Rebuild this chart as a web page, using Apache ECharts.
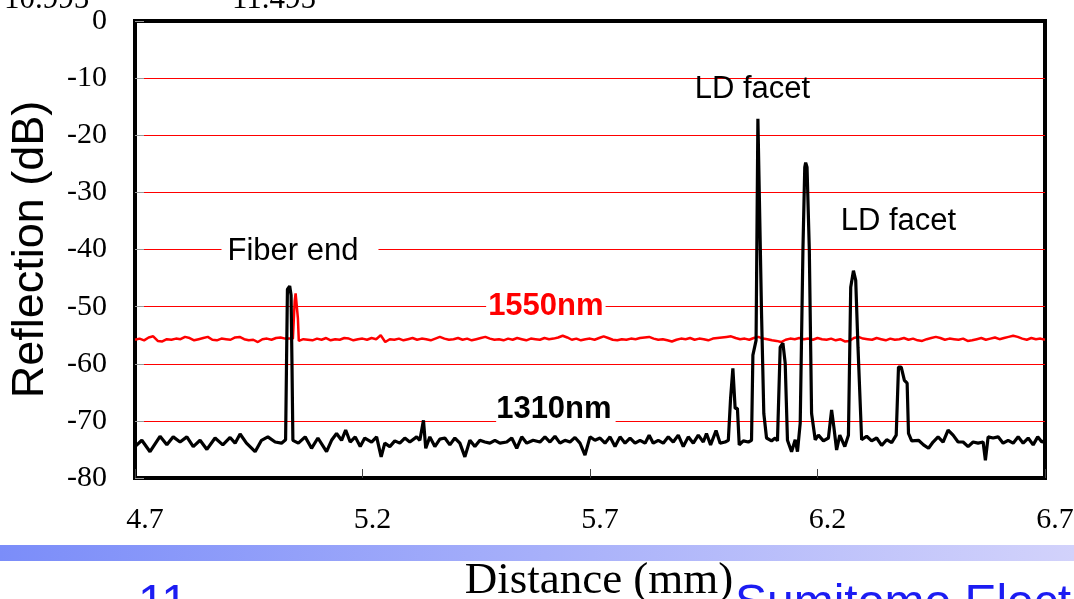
<!DOCTYPE html>
<html><head><meta charset="utf-8">
<script src="https://cdn.jsdelivr.net/npm/echarts@6/dist/echarts.min.js"></script>
<style>html,body{margin:0;padding:0;background:#fff;overflow:hidden}#c{width:1074px;height:599px}</style>
</head><body><div id="c"></div>
<script>
// ---- data ----
const xTickValues = [4.7, 5.2, 5.7, 6.2, 6.7];
const yMin = -80, yMax = 0, yStep = 10;
const seriesNames = ['1550nm', '1310nm'];

// 1310 nm trace: [distance (mm), reflection (dB)]
const trace1310 = [
[4.700,-74.5],[4.715,-73.4],[4.733,-75.4],[4.755,-72.7],[4.770,-74.2],[4.784,-72.8],[4.799,-73.7],[4.814,-72.8],
[4.828,-74.5],[4.843,-73.4],[4.858,-75.0],[4.876,-73.0],[4.893,-74.2],[4.909,-72.9],[4.920,-73.9],[4.931,-72.3],
[4.945,-73.9],[4.964,-75.4],[4.978,-73.4],[4.992,-72.8],[5.008,-73.7],[5.022,-73.9],[5.031,-73.3],[5.033,-60.0],
[5.035,-47.0],[5.040,-46.4],[5.043,-48.0],[5.045,-60.0],[5.047,-73.4],[5.059,-73.9],[5.074,-72.8],[5.088,-74.8],
[5.102,-73.0],[5.121,-75.4],[5.132,-73.4],[5.143,-72.2],[5.154,-73.4],[5.163,-71.6],[5.173,-73.7],[5.184,-72.8],
[5.195,-74.5],[5.205,-73.0],[5.220,-73.7],[5.231,-72.8],[5.241,-76.3],[5.249,-73.9],[5.260,-74.5],[5.271,-73.5],
[5.282,-73.9],[5.293,-73.0],[5.304,-73.7],[5.319,-72.8],[5.326,-73.4],[5.334,-69.9],[5.339,-74.8],[5.348,-72.8],
[5.359,-74.5],[5.370,-73.2],[5.381,-73.0],[5.392,-74.2],[5.403,-73.0],[5.414,-73.9],[5.425,-76.3],[5.436,-73.4],
[5.447,-74.5],[5.458,-73.4],[5.469,-73.7],[5.480,-73.9],[5.491,-73.4],[5.502,-73.9],[5.517,-73.7],[5.528,-73.0],
[5.539,-74.8],[5.550,-72.8],[5.561,-73.9],[5.575,-73.4],[5.590,-73.7],[5.601,-72.8],[5.612,-73.7],[5.623,-72.7],
[5.634,-73.9],[5.645,-73.4],[5.656,-73.7],[5.667,-72.9],[5.678,-73.9],[5.689,-76.0],[5.700,-72.8],[5.711,-73.4],
[5.722,-73.0],[5.733,-73.9],[5.744,-72.8],[5.755,-74.5],[5.766,-72.8],[5.777,-73.9],[5.788,-73.0],[5.799,-73.9],
[5.810,-73.4],[5.821,-73.9],[5.830,-72.5],[5.839,-73.9],[5.850,-73.4],[5.861,-73.9],[5.872,-72.8],[5.883,-73.7],
[5.894,-72.5],[5.905,-74.5],[5.916,-72.8],[5.927,-73.9],[5.938,-72.5],[5.949,-73.7],[5.956,-72.2],[5.965,-74.2],
[5.977,-71.7],[5.986,-73.9],[5.997,-73.7],[6.004,-73.4],[6.009,-66.0],[6.014,-60.8],[6.019,-67.8],[6.024,-67.8],
[6.028,-74.2],[6.037,-73.5],[6.048,-73.7],[6.055,-73.4],[6.058,-58.5],[6.065,-55.9],[6.069,-17.1],[6.072,-17.1],
[6.077,-51.2],[6.082,-68.7],[6.088,-73.0],[6.099,-73.5],[6.107,-73.0],[6.112,-73.5],[6.118,-57.1],[6.124,-56.4],
[6.129,-59.9],[6.134,-73.4],[6.143,-75.4],[6.151,-73.3],[6.156,-75.4],[6.162,-70.4],[6.168,-40.0],[6.172,-25.6],
[6.174,-24.8],[6.177,-25.6],[6.182,-40.0],[6.187,-68.7],[6.195,-73.3],[6.202,-72.5],[6.213,-73.5],[6.224,-73.0],[6.231,-68.1],
[6.236,-71.1],[6.242,-75.1],[6.249,-72.5],[6.260,-74.5],[6.268,-72.5],[6.273,-46.6],[6.279,-43.7],[6.284,-45.4],
[6.289,-57.1],[6.297,-73.3],[6.308,-72.7],[6.319,-73.5],[6.330,-73.0],[6.341,-74.3],[6.352,-73.3],[6.363,-73.8],
[6.373,-72.5],[6.378,-60.6],[6.384,-60.6],[6.391,-62.9],[6.397,-63.4],[6.400,-72.2],[6.407,-73.5],[6.411,-73.7],
[6.422,-73.4],[6.433,-74.2],[6.444,-74.8],[6.454,-73.7],[6.465,-72.8],[6.476,-73.7],[6.487,-71.6],[6.498,-72.5],
[6.509,-73.7],[6.520,-73.7],[6.531,-74.5],[6.542,-73.7],[6.553,-73.9],[6.564,-73.7],[6.569,-76.9],[6.575,-72.8],
[6.586,-73.0],[6.597,-72.8],[6.608,-73.9],[6.619,-73.4],[6.630,-73.9],[6.641,-72.8],[6.652,-73.9],[6.663,-73.0],
[6.674,-74.2],[6.684,-72.8],[6.693,-73.7],[6.700,-73.4]
];

// 1550 nm trace: [distance (mm), reflection (dB)]
const trace1550 = [
[4.70,-55.8],[4.71,-55.6],[4.72,-55.9],[4.73,-55.4],[4.74,-55.2],[4.75,-56.0],[4.76,-56.1],[4.77,-55.7],[4.78,-55.8],[4.79,-55.6],
[4.80,-55.7],[4.81,-55.3],[4.82,-55.5],[4.83,-55.9],[4.84,-55.7],[4.85,-55.5],[4.86,-55.3],[4.87,-55.8],[4.88,-55.9],[4.89,-55.6],
[4.90,-55.7],[4.91,-55.8],[4.92,-55.4],[4.93,-55.3],[4.94,-55.7],[4.95,-55.9],[4.96,-55.8],[4.97,-56.2],[4.98,-55.7],[4.99,-55.6],
[5.00,-55.8],[5.01,-55.5],[5.02,-55.4],[5.03,-55.6],[5.04,-55.6],[5.047,-55.6],[5.051,-49.0],[5.053,-47.7],[5.056,-47.8],[5.058,-52.0],
[5.060,-56.0],[5.07,-55.7],[5.08,-55.8],[5.09,-55.9],[5.10,-55.6],[5.11,-55.8],[5.12,-55.5],[5.13,-55.9],[5.14,-55.7],[5.15,-55.8],
[5.16,-55.5],[5.17,-55.6],[5.18,-55.9],[5.19,-55.7],[5.20,-55.6],[5.21,-55.8],[5.22,-55.5],[5.23,-55.7],[5.24,-55.0],[5.25,-56.2],
[5.26,-55.7],[5.27,-55.8],[5.28,-55.6],[5.29,-55.9],[5.30,-55.7],[5.31,-55.5],[5.32,-55.8],[5.33,-55.6],[5.34,-55.7],[5.35,-55.9],
[5.36,-55.6],[5.37,-55.3],[5.38,-55.6],[5.39,-55.8],[5.40,-55.7],[5.41,-55.5],[5.42,-55.8],[5.43,-55.6],[5.44,-55.9],[5.45,-55.7],
[5.46,-55.5],[5.47,-55.3],[5.48,-55.6],[5.49,-55.8],[5.50,-55.7],[5.51,-55.9],[5.52,-55.6],[5.53,-55.8],[5.54,-55.5],[5.55,-55.7],
[5.56,-55.9],[5.57,-55.6],[5.58,-55.7],[5.59,-55.8],[5.60,-55.5],[5.61,-55.7],[5.62,-55.6],[5.63,-55.4],[5.64,-55.1],[5.65,-55.4],
[5.66,-55.8],[5.67,-55.6],[5.68,-55.9],[5.69,-55.7],[5.70,-55.6],[5.71,-55.8],[5.72,-55.5],[5.73,-55.2],[5.74,-55.5],[5.75,-55.8],
[5.76,-55.9],[5.77,-55.7],[5.78,-55.8],[5.79,-55.6],[5.80,-55.7],[5.81,-55.5],[5.82,-55.4],[5.83,-55.3],[5.84,-55.6],[5.85,-55.8],
[5.86,-55.7],[5.87,-55.9],[5.88,-56.1],[5.89,-55.8],[5.90,-55.6],[5.91,-55.7],[5.92,-55.5],[5.93,-55.8],[5.94,-55.6],[5.95,-55.7],
[5.96,-55.9],[5.97,-55.6],[5.98,-55.5],[5.99,-55.4],[6.00,-55.3],[6.01,-55.2],[6.02,-55.5],[6.03,-55.7],[6.04,-55.6],[6.05,-55.8],
[6.06,-55.5],[6.07,-55.3],[6.08,-55.6],[6.09,-55.7],[6.10,-55.9],[6.11,-56.0],[6.12,-56.2],[6.13,-55.8],[6.14,-55.6],[6.15,-55.7],
[6.16,-55.5],[6.17,-55.7],[6.18,-55.6],[6.19,-55.8],[6.20,-55.5],[6.21,-55.7],[6.22,-55.8],[6.23,-55.6],[6.24,-55.9],[6.25,-55.7],
[6.26,-56.1],[6.27,-56.0],[6.28,-55.5],[6.29,-55.3],[6.30,-55.6],[6.31,-55.7],[6.32,-55.8],[6.33,-55.5],[6.34,-55.7],[6.35,-55.9],
[6.36,-55.6],[6.37,-55.8],[6.38,-55.7],[6.39,-55.5],[6.40,-55.8],[6.41,-55.6],[6.42,-55.9],[6.43,-56.0],[6.44,-55.7],[6.45,-55.5],
[6.46,-55.3],[6.47,-55.5],[6.48,-55.8],[6.49,-55.6],[6.50,-55.7],[6.51,-55.8],[6.52,-55.6],[6.53,-56.0],[6.54,-55.9],[6.55,-55.7],
[6.56,-55.5],[6.57,-55.8],[6.58,-55.6],[6.59,-55.4],[6.60,-55.7],[6.61,-55.5],[6.62,-55.3],[6.63,-55.1],[6.64,-55.3],[6.65,-55.6],
[6.66,-55.8],[6.67,-55.5],[6.68,-55.7],[6.69,-55.6],[6.70,-55.8]
];

// ---- chart ----
const chart = echarts.init(document.getElementById('c'), null, {renderer: 'canvas'});
const sans = '"Liberation Sans", Arial, sans-serif';
const serif = '"Liberation Serif", "Times New Roman", serif';

const option = {
  backgroundColor: '#fff',
  animation: false,
  grid: {
    left: 135, right: 29, top: 21, bottom: 121,
    outerBoundsMode: 'none', containLabel: false,
    show: true, borderColor: '#000', borderWidth: 4, backgroundColor: '#fff'
  },
  xAxis: {
    type: 'value', min: 4.7, max: 6.7, position: 'bottom',
    name: 'Distance (mm)', nameLocation: 'middle', nameGap: 81,
    nameTextStyle: {fontFamily: serif, fontSize: 45, color: '#000', padding: [0, 0, 0, 18]},
    axisLine: {show: false, onZero: false},
    axisTick: {show: true, inside: true, length: 9, lineStyle: {color: '#444', width: 1}, customValues: xTickValues},
    axisLabel: {
      show: true, customValues: xTickValues, margin: 27,
      fontFamily: serif, fontSize: 30, color: '#000', padding: [0, 0, 0, 20],
      formatter: v => v.toFixed(1)
    },
    splitLine: {show: false}
  },
  yAxis: {
    type: 'value', min: yMin, max: yMax, interval: yStep,
    name: 'Reflection (dB)', nameLocation: 'middle', nameGap: 82, nameRotate: 90,
    nameTextStyle: {fontFamily: sans, fontSize: 45, color: '#000'},
    axisLine: {show: false, onZero: false},
    axisTick: {show: true, inside: true, length: 9, lineStyle: {color: '#999', width: 1}},
    axisLabel: {fontFamily: serif, fontSize: 30, color: '#000', margin: 28},
    splitLine: {show: true, showMinLine: false, showMaxLine: false, lineStyle: {color: '#ff0000', width: 1}}
  },
  series: [
    {
      name: seriesNames[0], type: 'line', data: trace1550, showSymbol: false, symbol: 'none',
      lineStyle: {color: '#ff0000', width: 2.5}, z: 3,
      markPoint: {
        symbol: 'rect', symbolSize: 1, itemStyle: {color: 'rgba(0,0,0,0)'}, silent: true,
        data: [
          {name: '1550nm', coord: [5.603, -50.0],
           label: {show: true, position: 'inside', formatter: '1550nm', color: '#ff0000', fontWeight: 'bold',
                   fontFamily: sans, fontSize: 31, backgroundColor: '#fff', padding: [1, 2, 1, 2]}}
        ]
      }
    },
    {
      name: seriesNames[1], type: 'line', data: trace1310, showSymbol: false, symbol: 'none',
      lineStyle: {color: '#000', width: 3.2}, z: 4,
      markPoint: {
        symbol: 'rect', symbolSize: 1, itemStyle: {color: 'rgba(0,0,0,0)'}, silent: true,
        data: [
          {name: 'Fiber end', coord: [5.0626, -40.35],
           label: {show: true, position: 'inside', formatter: 'Fiber end', color: '#000',
                   fontFamily: sans, fontSize: 31, backgroundColor: '#fff', padding: [1, 20, 1, 6]}},
          {name: '1310nm', coord: [5.625, -67.95],
           label: {show: true, position: 'inside', formatter: '1310nm', color: '#000', fontWeight: 'bold',
                   fontFamily: sans, fontSize: 31, backgroundColor: '#fff', padding: [1, 4, 1, 0]}},
          {name: 'LD facet 1', coord: [6.057, -12.05],
           label: {show: true, position: 'inside', formatter: 'LD facet', color: '#000',
                   fontFamily: sans, fontSize: 31}},
          {name: 'LD facet 2', coord: [6.378, -35.1],
           label: {show: true, position: 'inside', formatter: 'LD facet', color: '#000',
                   fontFamily: sans, fontSize: 31}}
        ]
      }
    }
  ],
  graphic: [
    {type: 'rect', left: 0, top: 545, shape: {width: 1074, height: 16}, silent: true,
     style: {fill: new echarts.graphic.LinearGradient(0, 0, 1, 0, [
       {offset: 0, color: '#7b8df9'}, {offset: 1, color: '#d2d2fb'}])}},
    {type: 'text', left: 4, top: -16, silent: true,
     style: {text: '10.995', font: '31px ' + serif, fill: '#000'}},
    {type: 'text', left: 232, top: -16, silent: true,
     style: {text: '11.495', font: '31px ' + serif, fill: '#000'}},
    {type: 'text', left: 138, top: 581, silent: true,
     style: {text: '11', font: '48px ' + sans, fill: '#1c1cf2'}},
    {type: 'text', left: 735, top: 581, silent: true,
     style: {text: 'Sumitomo Electric', font: '48px ' + sans, fill: '#1c1cf2'}}
  ]
};
chart.setOption(option);
</script>
</body></html>
